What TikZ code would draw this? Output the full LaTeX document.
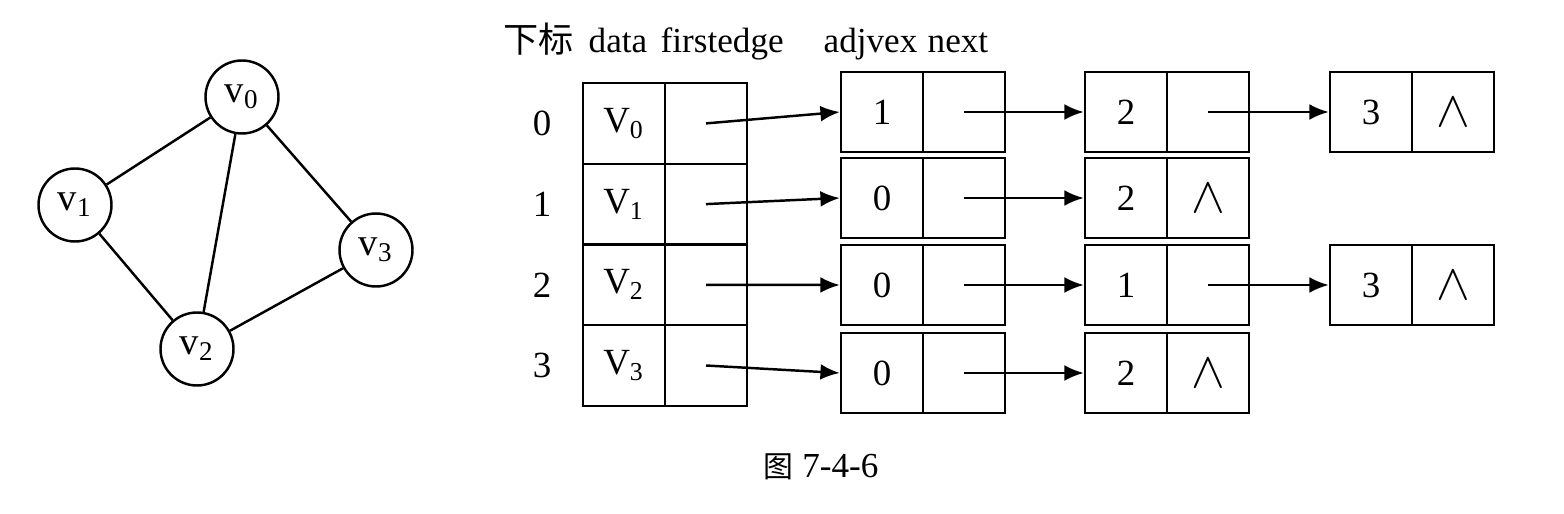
\documentclass[tikz,border=0pt]{standalone}
\usepackage{fontspec}
\setmainfont{Liberation Serif}
\newfontfamily\cjk{Noto Sans CJK SC}
\usetikzlibrary{arrows.meta}

\begin{document}
\begin{tikzpicture}[>={Latex[length=5.5pt,width=4.5pt]},
  vert/.style={draw, circle, line width=0.7pt, minimum size=7.3mm, inner sep=0pt,
    font=\fontsize{11}{13}\selectfont},
  cell/.style={draw, line width=0.7pt, minimum width=8.2mm, minimum height=8.07mm,
    inner sep=0pt, font=\fontsize{10.5}{12}\selectfont},
  ecell/.style={cell, minimum height=8mm},
  ptr/.style={->, line width=0.7pt},
  head/.style={anchor=base west, inner sep=0pt, font=\fontsize{10}{12}\selectfont}]
  \useasboundingbox (0,0) rectangle (15.64,-5.14);

  % Graph
  \node[vert] (v0) at (2.42,-0.97) {v\textsubscript{0}};
  \node[vert] (v1) at (0.75,-2.05) {v\textsubscript{1}};
  \node[vert] (v2) at (1.97,-3.49) {v\textsubscript{2}};
  \node[vert] (v3) at (3.76,-2.50) {v\textsubscript{3}};
  \draw[line width=0.7pt] (v0) -- (v1) (v0) -- (v2) (v0) -- (v3)
    (v1) -- (v2) (v2) -- (v3);

  % Header
  \node[head] (hidx) at (5.03,-0.53) {\cjk 下标};
  \node[head] (hdata) at (5.88,-0.53) {data};
  \node[head] (hfirst) at (6.60,-0.53) {firstedge};
  \node[head] (hadj) at (8.23,-0.53) {adjvex};
  \node[head] (hnext) at (9.27,-0.53) {next};

  % Vertex table
  \foreach \i in {0,...,3} {
    \pgfmathsetmacro\y{-1.234-0.807*\i}
    \node[font=\fontsize{10.5}{12}\selectfont] (idx\i) at (5.42,\y) {\i};
    \node[cell] (d\i) at (6.24,\y) {V\textsubscript{\i}};
    \node[cell] (f\i) at (7.06,\y) {};
  }

  % Edge lists (adjvex / next)
  \foreach \n/\x/\y/\v/\e in {e01/8.82/-1.12/1/0, e02/11.26/-1.12/2/0, e03/13.71/-1.12/3/1,
      e11/8.82/-1.98/0/0, e12/11.26/-1.98/2/1,
      e21/8.82/-2.85/0/0, e22/11.26/-2.85/1/0, e23/13.71/-2.85/3/1,
      e31/8.82/-3.73/0/0, e32/11.26/-3.73/2/1} {
    \node[ecell] (\n a) at (\x,\y) {\v};
    \node[ecell] (\n b) at ({\x+0.82},\y)
      {\ifnum\e=1 \fontsize{14}{16}\selectfont$\wedge$\fi};
  }

  % Pointers
  \draw[ptr] (f0.center) -- (e01a.west);
  \draw[ptr] (f1.center) -- (e11a.west);
  \draw[ptr] (f2.center) -- (e21a.west);
  \draw[ptr] (f3.center) -- (e31a.west);
  \draw[ptr] (e01b.center) -- (e02a.west);
  \draw[ptr] (e02b.center) -- (e03a.west);
  \draw[ptr] (e11b.center) -- (e12a.west);
  \draw[ptr] (e21b.center) -- (e22a.west);
  \draw[ptr] (e22b.center) -- (e23a.west);
  \draw[ptr] (e31b.center) -- (e32a.west);

  % Caption
  \node[anchor=west, inner sep=0pt, font=\fontsize{10}{12}\selectfont] (cap) at (7.63,-4.67)
    {{\cjk\fontsize{8.5}{10}\selectfont 图} 7-4-6};
\end{tikzpicture}
\end{document}
